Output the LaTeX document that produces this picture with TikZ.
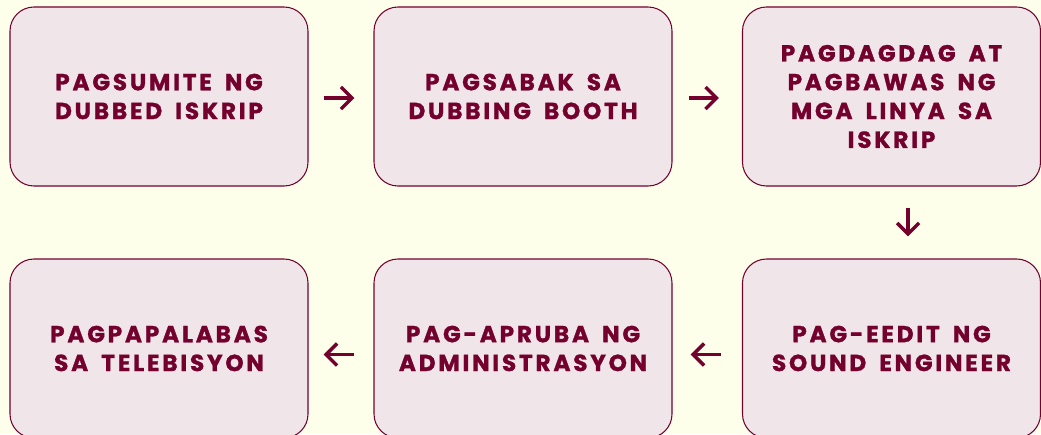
\documentclass[tikz,border=0pt]{standalone}
\usepackage{fontspec}
\setmainfont{Poppins}[LetterSpace=12, WordSpace=1.7, BoldFeatures={FakeBold=1.2}]
\usepackage{tikz}
\usetikzlibrary{arrows.meta,positioning}
\definecolor{dbmaroon}{RGB}{115,0,45}
\definecolor{dbpink}{RGB}{240,230,234}
\definecolor{dbcream}{RGB}{254,255,235}
\tikzset{
  stepbox/.style={draw=dbmaroon, line width=0.6pt, fill=dbpink, rounded corners=0.48cm, minimum width=5.96cm, minimum height=3.58cm, align=center, text=dbmaroon, font=\fontsize{13.2}{16.4}\selectfont\bfseries},
  flow/.style={draw=dbmaroon, line width=2pt, -{Straight Barb[length=0.22cm,width=0.44cm]}},
}
\begin{document}
\begin{tikzpicture}
  \useasboundingbox (0,0) rectangle (20.82,8.68);
  \clip (0,0) rectangle (20.82,8.68);
  \fill[dbcream] (0,0) rectangle (20.82,8.68);

  \node[stepbox] (s1) at (3.18,6.75) {PAGSUMITE NG\\DUBBED ISKRIP};
  \node[stepbox] (s2) at (10.46,6.75) {PAGSABAK SA\\DUBBING BOOTH};
  \node[stepbox] (s3) at (17.83,6.75) {PAGDAGDAG AT\\PAGBAWAS NG\\MGA LINYA SA\\ISKRIP};
  \node[stepbox] (s4) at (17.83,1.71) {PAG-EEDIT NG\\SOUND ENGINEER};
  \node[stepbox] (s5) at (10.46,1.71) {PAG-APRUBA NG\\ADMINISTRASYON};
  \node[stepbox] (s6) at (3.18,1.71) {PAGPAPALABAS\\SA TELEBISYON};

  \draw[flow, shorten <=0.3cm, shorten >=0.38cm] ([yshift=-0.03cm]s1.east) -- ([yshift=-0.03cm]s2.west);
  \draw[flow, shorten <=0.32cm, shorten >=0.46cm] ([yshift=-0.03cm]s2.east) -- ([yshift=-0.03cm]s3.west);
  \draw[flow, shorten <=0.42cm, shorten >=0.44cm] ([xshift=0.33cm]s3.south) -- ([xshift=0.33cm]s4.north);
  \draw[flow, shorten <=0.42cm, shorten >=0.36cm] ([yshift=-0.12cm]s4.west) -- ([yshift=-0.12cm]s5.east);
  \draw[flow, shorten <=0.38cm, shorten >=0.3cm] ([yshift=-0.12cm]s5.west) -- ([yshift=-0.12cm]s6.east);
\end{tikzpicture}
\end{document}
